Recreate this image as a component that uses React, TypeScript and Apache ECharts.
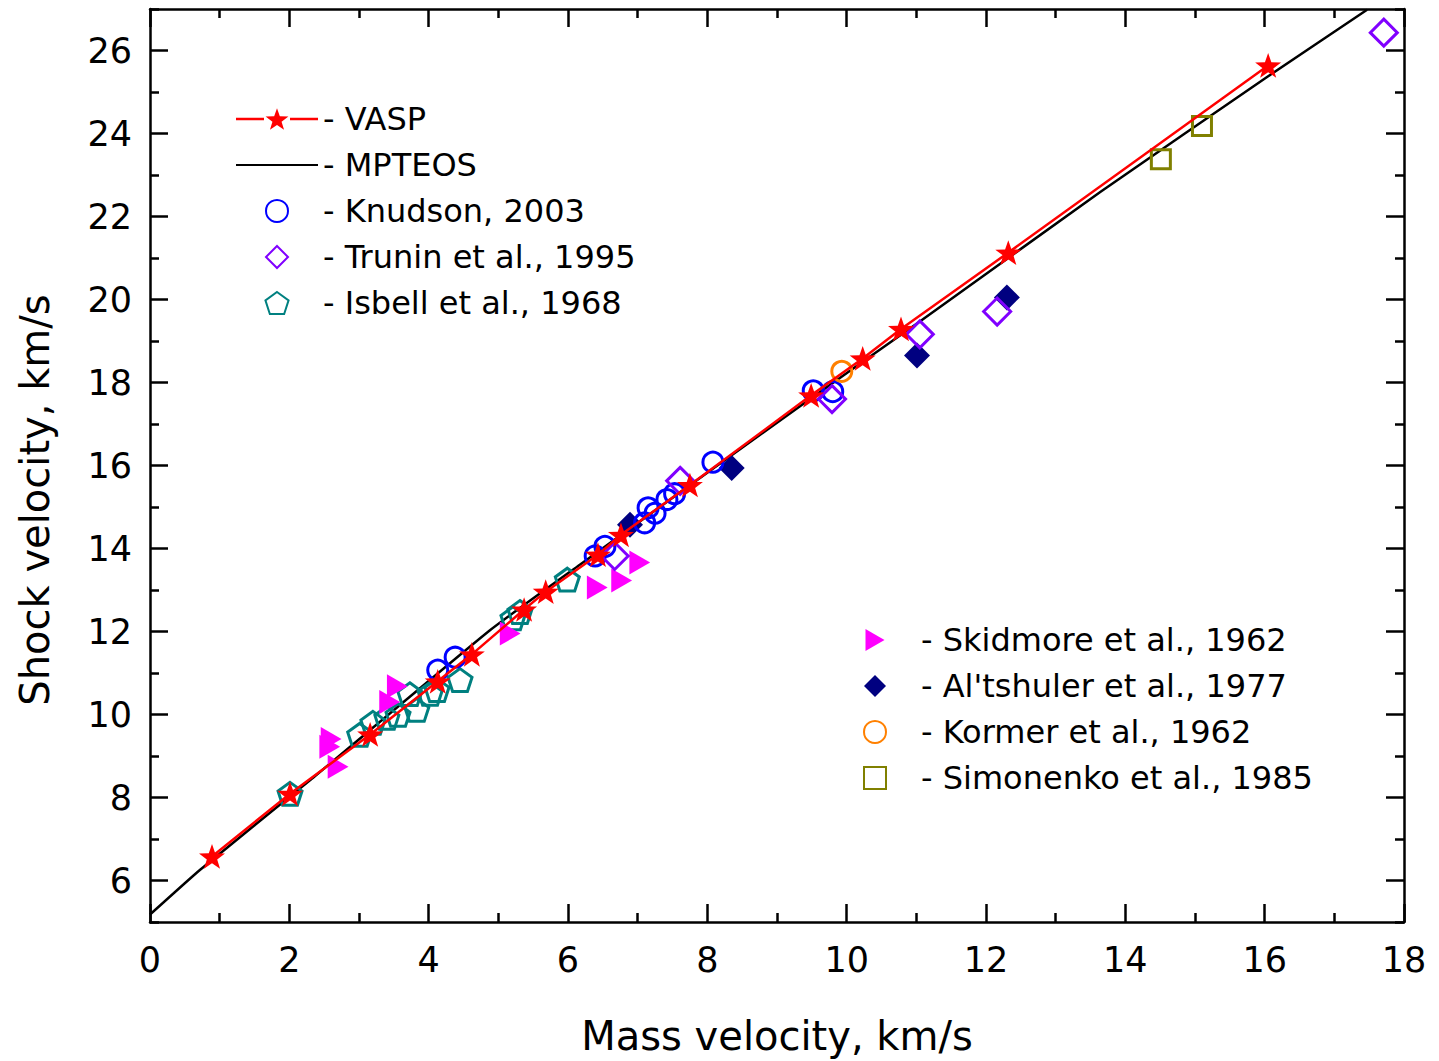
import React, { useEffect, useRef } from "react";
import * as echarts from "echarts";

// ---- data ----
const vasp: number[][] = [
  [0.89, 6.58], [2.01, 8.09], [3.16, 9.52], [4.13, 10.8], [4.62, 11.45],
  [5.37, 12.53], [5.68, 12.96], [6.43, 13.85], [6.76, 14.33], [7.75, 15.53],
  [9.49, 17.69], [10.23, 18.58], [10.78, 19.29], [12.32, 21.13], [16.05, 25.64],
];
const mpteos: number[][] = [
  [0, 5.18], [0.72, 6.26], [2.3, 8.42], [4.88, 12.03],
  [6.17, 13.61], [9.33, 17.43], [11.05, 19.47], [13.64, 22.59], [16.05, 25.38], [17.47, 26.98],
];
const knudson: number[][] = [
  [4.13, 11.07], [4.38, 11.38], [6.39, 13.82], [6.53, 14.05], [7.1, 14.62],
  [7.25, 14.85], [7.15, 14.98], [7.42, 15.18], [7.53, 15.32], [8.08, 16.08],
  [9.52, 17.8], [9.8, 17.78],
];
const trunin: number[][] = [
  [6.67, 13.82], [7.61, 15.63], [9.79, 17.6], [11.05, 19.16], [12.16, 19.71], [17.71, 26.43],
];
const isbell: number[][] = [
  [2.01, 8.09], [3.01, 9.51], [3.2, 9.8], [3.4, 9.92], [3.56, 9.99], [3.83, 10.11],
  [3.73, 10.49], [4.02, 10.5], [4.12, 10.59], [4.45, 10.83], [5.21, 12.32],
  [5.31, 12.47], [5.99, 13.25],
];
const skidmore: number[][] = [
  [2.6, 9.41], [2.58, 9.22], [2.7, 8.74], [3.44, 10.3], [3.55, 10.68],
  [5.17, 11.95], [6.42, 13.06], [6.77, 13.23], [7.03, 13.66],
];
const altshuler: number[][] = [
  [6.89, 14.57], [8.35, 15.94], [11.01, 18.65], [12.3, 20.05],
];
const kormer: number[][] = [[9.93, 18.27]];
const simonenko: number[][] = [[14.51, 23.38], [15.1, 24.18]];

const yMajorTicks = [6, 8, 10, 12, 14, 16, 18, 20, 22, 24, 26];
const yMinorTicks = [5, 7, 9, 11, 13, 15, 17, 19, 21, 23, 25, 27];

const legendLeft = ["VASP", "MPTEOS", "Knudson, 2003", "Trunin et al., 1995", "Isbell et al., 1968"];
const legendRight = ["Skidmore et al., 1962", "Al'tshuler et al., 1977", "Kormer et al., 1962", "Simonenko et al., 1985"];

const FONT = "DejaVu Sans";
const STAR = "path://M0,-10 L2.35,-3.24 L9.51,-3.09 L3.8,1.24 L5.88,8.09 L0,4 L-5.88,8.09 L-3.8,1.24 L-9.51,-3.09 L-2.35,-3.24 Z";
const PENTA = "path://M0,-10 L9.51,-3.09 L5.88,8.09 L-5.88,8.09 L-9.51,-3.09 Z";
const DIAMOND = "path://M0,-10 L10,0 L0,10 L-10,0 Z";
const TRI_RIGHT = "path://M0,0 L10,5.77 L0,11.55 Z";
const SQUARE = "path://M0,0 L10,0 L10,10 L0,10 Z";
const VASP_ICON =
  "path://M0,9.6 L28,9.6 L28,12 L0,12 Z M54,9.6 L82,9.6 L82,12 L54,12 Z " +
  "M41,0 L43.82,8.12 L52.41,8.29 L45.57,13.48 L48.05,21.71 L41,16.8 L33.95,21.71 L36.43,13.48 L29.59,8.29 L38.18,8.12 Z";

export default function App() {
  const ref = useRef<HTMLDivElement>(null);
  useEffect(() => {
    if (!ref.current) return;
    const chart = echarts.init(ref.current, undefined, { renderer: "svg" });
    const axisLine = { show: true, onZero: false, lineStyle: { color: "#000", width: 2.5 } };
    const tickStyle = { color: "#000", width: 2.5 };
    const xBase = (pos: string, labels: boolean) => ({
      type: "value", min: 0, max: 18, interval: 2, position: pos,
      axisLine,
      axisTick: { show: true, inside: true, length: 18, lineStyle: tickStyle },
      minorTick: { show: true, splitNumber: 2, length: 9, lineStyle: tickStyle },
      splitLine: { show: false }, minorSplitLine: { show: false },
      axisLabel: { show: labels, fontSize: 35, fontFamily: FONT, color: "#000", margin: 20 },
    });
    const yMajor = (pos: string, labels: boolean) => ({
      type: "value", min: 5, max: 27, position: pos,
      axisLine,
      axisTick: { show: true, inside: true, length: 18, lineStyle: tickStyle, customValues: yMajorTicks },
      splitLine: { show: false },
      axisLabel: { show: labels, fontSize: 35, fontFamily: FONT, color: "#000", margin: 18, customValues: yMajorTicks },
    });
    const yMinor = (pos: string) => ({
      type: "value", min: 5, max: 27, position: pos,
      axisLine: { show: false, onZero: false },
      axisTick: { show: true, inside: true, length: 9, lineStyle: tickStyle, customValues: yMinorTicks },
      splitLine: { show: false },
      axisLabel: { show: false },
    });
    const openItem = (c: string) => ({ color: "rgba(255,255,255,0)", borderColor: c, borderWidth: 3, opacity: 1 });
    const legendCommon = {
      orient: "vertical", align: "left", padding: 0, itemWidth: 82, itemHeight: 22, itemGap: 14,
      formatter: "- {name}", selectedMode: false, symbolKeepAspect: true,
      textStyle: { fontSize: 32, fontFamily: FONT, color: "#000", lineHeight: 32 },
    };
    const leftData = legendLeft.map((n) =>
      n === "MPTEOS" ? { name: n, itemStyle: { opacity: 0 } }
        : n === "VASP" ? { name: n, icon: VASP_ICON }
        : { name: n }
    );
    chart.setOption({
      animation: false,
      backgroundColor: "#fff",
      grid: { left: 150, right: 35, top: 9, bottom: 135 },
      legend: [
        { ...legendCommon, data: leftData, left: 235, top: 103 },
        { ...legendCommon, data: legendRight, left: 863, top: 624 },
      ],
      xAxis: [
        { ...xBase("bottom", true), name: "Mass velocity, km/s", nameLocation: "middle", nameGap: 94,
          nameTextStyle: { fontSize: 40, fontFamily: FONT, color: "#000" } },
        xBase("top", false),
      ],
      yAxis: [yMajor("left", true), yMinor("left"), yMajor("right", false), yMinor("right")],
      graphic: [
        { type: "text", x: 35, y: 500, rotation: Math.PI / 2,
          style: { text: "Shock velocity, km/s", font: `40px "${FONT}"`, fill: "#000", textAlign: "center", textVerticalAlign: "middle" } },
      ],
      series: [
        { name: "MPTEOS", type: "line", data: mpteos, smooth: 0.15, symbol: "none", z: 2,
          lineStyle: { color: "#000", width: 2.5 }, itemStyle: { color: "#000" } },
        { name: "Al'tshuler et al., 1977", type: "scatter", data: altshuler, symbol: DIAMOND, symbolSize: 26, symbolKeepAspect: true, z: 3,
          itemStyle: { color: "#000080", opacity: 1 } },
        { name: "Isbell et al., 1968", type: "scatter", data: isbell, symbol: PENTA, symbolSize: 24, symbolKeepAspect: true, z: 3,
          itemStyle: openItem("#008080") },
        { name: "Skidmore et al., 1962", type: "scatter", data: skidmore, symbol: TRI_RIGHT, symbolSize: 24, symbolKeepAspect: true, z: 3,
          itemStyle: { color: "#FF00FF", opacity: 1 } },
        { name: "Knudson, 2003", type: "scatter", data: knudson, symbol: "circle", symbolSize: 20, z: 4,
          itemStyle: openItem("#0000FF") },
        { name: "Trunin et al., 1995", type: "scatter", data: trunin, symbol: DIAMOND, symbolSize: 27, symbolKeepAspect: true, z: 4,
          itemStyle: openItem("#8000FF") },
        { name: "Kormer et al., 1962", type: "scatter", data: kormer, symbol: "circle", symbolSize: 20, z: 4,
          itemStyle: openItem("#FF8000") },
        { name: "Simonenko et al., 1985", type: "scatter", data: simonenko, symbol: SQUARE, symbolSize: 19, symbolKeepAspect: true, z: 4,
          itemStyle: openItem("#808000") },
        { name: "VASP", type: "line", data: vasp, symbol: STAR, symbolSize: 26, symbolKeepAspect: true, z: 6,
          lineStyle: { color: "#FF0000", width: 2.5 }, itemStyle: { color: "#FF0000" } },
      ],
    });
    return () => chart.dispose();
  }, []);
  return <div ref={ref} style={{ position: "fixed", left: 0, top: 0, width: 1439, height: 1061 }} />;
}
